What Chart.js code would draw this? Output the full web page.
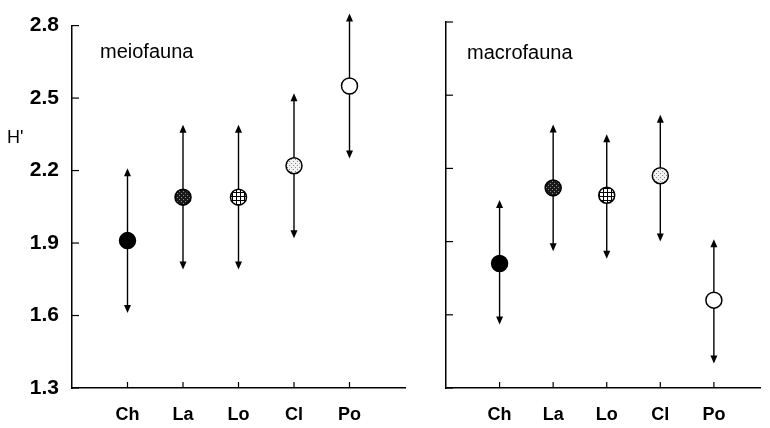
<!DOCTYPE html>
<html>
<head>
<meta charset="utf-8">
<script src="https://cdn.jsdelivr.net/npm/chart.js@4"></script>
<style>
  body { margin: 0; background: #fff; }
  #wrap { position: relative; width: 770px; height: 428px; overflow: hidden; }
  canvas { position: absolute; top: 0; }
  .lbl { position: absolute; font-family: 'Liberation Sans', Arial, sans-serif; color: #000; white-space: nowrap; }
</style>
</head>
<body>
<div id="wrap">
  <canvas id="meioChart" width="415" height="428" style="left:0"></canvas>
  <canvas id="macroChart" width="355" height="428" style="left:415px"></canvas>
  <div class="lbl" style="left:100px; top:40px; font-size:20px;">meiofauna</div>
  <div class="lbl" style="left:467px; top:41px; font-size:20px;">macrofauna</div>
  <div class="lbl" style="left:7px; top:127px; font-size:18px;">H'</div>
</div>

<script>
  var categories = ['Ch', 'La', 'Lo', 'Cl', 'Po'];
  var yTicks = [1.3, 1.6, 1.9, 2.2, 2.5, 2.8];

  // meiofauna: mean and range ends (arrow tips)
  var meioMean = [1.91, 2.09, 2.09, 2.22, 2.55];
  var meioLow  = [1.61, 1.79, 1.79, 1.92, 2.25];
  var meioHigh = [2.21, 2.39, 2.39, 2.52, 2.85];

  // macrofauna
  var macroMean = [1.81, 2.12, 2.09, 2.17, 1.66];
  var macroLow  = [1.56, 1.86, 1.83, 1.90, 1.40];
  var macroHigh = [2.07, 2.38, 2.34, 2.42, 1.91];

  var fontFam = "'Liberation Sans', Arial, sans-serif";

  // fills of the five markers
  function makePattern(bg, draw) {
    var c = document.createElement('canvas');
    c.width = 4; c.height = 4;
    var g = c.getContext('2d');
    g.fillStyle = bg;
    g.fillRect(0, 0, 4, 4);
    draw(g);
    return g.createPattern(c, 'repeat');
  }
  var fills = [
    '#000',
    makePattern('#1a1a1a', function (g) { g.fillStyle = '#8a8a8a'; g.fillRect(1, 1, 1, 1); g.fillRect(3, 3, 1, 1); }),
    makePattern('#fff', function (g) { g.fillStyle = '#000'; g.fillRect(0, 0, 4, 1); g.fillRect(0, 0, 1, 4); }),
    makePattern('#f2f2f2', function (g) { g.fillStyle = '#888'; g.fillRect(1, 1, 1, 1); g.fillRect(3, 3, 1, 1); }),
    '#fff'
  ];

  // error bars with arrow heads + inward axis ticks
  var rangePlugin = {
    id: 'ranges',
    beforeDatasetsDraw: function (chart) {
      var ctx = chart.ctx, xs = chart.scales.x, ys = chart.scales.y;
      var low = chart.options.plugins.ranges.low, high = chart.options.plugins.ranges.high;
      var area = chart.chartArea;
      ctx.save();
      ctx.strokeStyle = '#000';
      ctx.fillStyle = '#000';
      ctx.lineWidth = 1.2;
      // inward ticks
      ys.ticks.forEach(function (t) {
        var y = ys.getPixelForValue(t.value);
        ctx.beginPath(); ctx.moveTo(area.left, y); ctx.lineTo(area.left + 7, y); ctx.stroke();
      });
      xs.ticks.forEach(function (t) {
        var x = xs.getPixelForValue(t.value);
        ctx.beginPath(); ctx.moveTo(x, area.bottom); ctx.lineTo(x, area.bottom - 6); ctx.stroke();
      });
      ctx.lineWidth = 1.4;
      for (var i = 0; i < categories.length; i++) {
        var x = xs.getPixelForValue(i);
        var yl = ys.getPixelForValue(low[i]);
        var yh = ys.getPixelForValue(high[i]);
        ctx.beginPath(); ctx.moveTo(x, yl - 5); ctx.lineTo(x, yh + 5); ctx.stroke();
        ctx.beginPath(); ctx.moveTo(x, yh); ctx.lineTo(x - 3.5, yh + 8); ctx.lineTo(x + 3.5, yh + 8); ctx.closePath(); ctx.fill();
        ctx.beginPath(); ctx.moveTo(x, yl); ctx.lineTo(x - 3.5, yl - 8); ctx.lineTo(x + 3.5, yl - 8); ctx.closePath(); ctx.fill();
      }
      ctx.restore();
    }
  };

  function makeChart(id, mean, low, high, opts) {
    var ctx = document.getElementById(id).getContext('2d');
    return new Chart(ctx, {
      type: 'scatter',
      data: {
        datasets: [{
          data: mean.map(function (v, i) { return { x: i, y: v }; }),
          backgroundColor: fills,
          borderColor: '#000',
          borderWidth: 1.5,
          pointRadius: 8,
          pointHoverRadius: 8
        }]
      },
      options: {
        responsive: false,
        animation: false,
        events: [],
        layout: { padding: { top: 22, right: opts.padRight, left: 0, bottom: 0 } },
        plugins: {
          legend: { display: false },
          tooltip: { enabled: false },
          ranges: { low: low, high: high }
        },
        scales: {
          x: {
            type: 'linear',
            min: -1,
            max: opts.xMax,
            afterBuildTicks: function (s) { s.ticks = categories.map(function (c, i) { return { value: i }; }); },
            afterFit: function (s) { s.height = 40; },
            grid: { display: false, drawTicks: false },
            border: { display: true, color: '#000', width: 1.5 },
            ticks: {
              padding: 16,
              color: '#000',
              font: { family: fontFam, size: 18, weight: 'bold' },
              callback: function (v) { return categories[v]; }
            }
          },
          y: {
            min: 1.3,
            max: 2.8,
            afterBuildTicks: function (s) { s.ticks = yTicks.map(function (v) { return { value: v }; }); },
            afterFit: function (s) { s.width = opts.yWidth; },
            grid: { display: false, drawTicks: false },
            border: { display: true, color: '#000', width: 1.5 },
            ticks: {
              display: opts.yLabels,
              padding: 13,
              color: '#000',
              font: { family: fontFam, size: 21, weight: 'bold' },
              callback: function (v) { return v.toFixed(1); }
            }
          }
        }
      },
      plugins: [rangePlugin]
    });
  }

  var meioChart = makeChart('meioChart', meioMean, meioLow, meioHigh, { padRight: 10, xMax: 5, yWidth: 72, yLabels: true });
  var macroChart = makeChart('macroChart', macroMean, macroLow, macroHigh, { padRight: 0, xMax: 4.87, yWidth: 31, yLabels: false });
</script>
</body>
</html>
